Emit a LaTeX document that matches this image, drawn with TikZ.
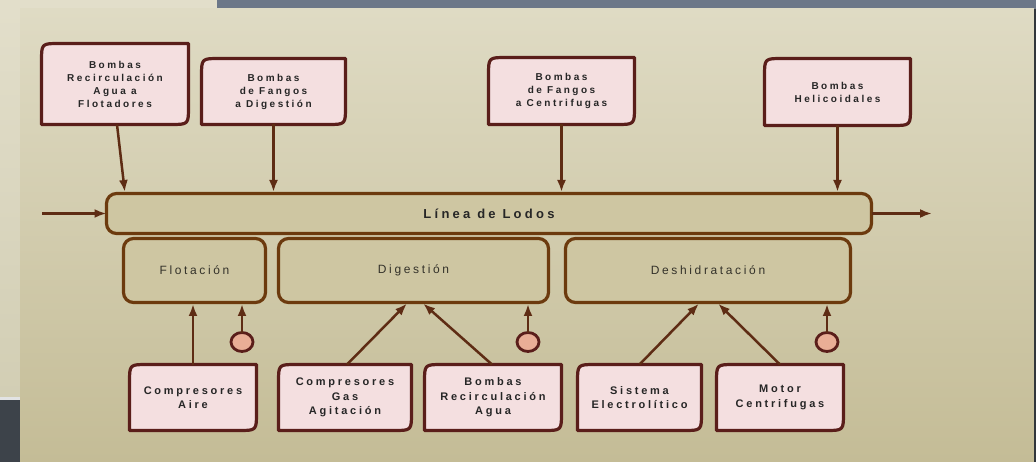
\documentclass[tikz,border=0pt]{standalone}
\usepackage{fontspec}
\setmainfont{Liberation Sans}
\newfontfamily\boxfont[LetterSpace=25]{Liberation Sans}
\newfontfamily\stagefont[LetterSpace=22]{Liberation Sans}
\usetikzlibrary{arrows.meta,backgrounds,shapes.geometric}

\definecolor{panelTop}{HTML}{DFDBC4}
\definecolor{panelBot}{HTML}{C4BC96}
\definecolor{stripTop}{HTML}{E2DECA}
\definecolor{stripBot}{HTML}{D2CEB4}
\definecolor{slateBar}{HTML}{6C7788}
\definecolor{slateDark}{HTML}{3D434A}
\definecolor{pumpFill}{HTML}{F4DFE0}
\definecolor{pumpLine}{HTML}{5A1E1A}
\definecolor{stageFill}{HTML}{CEC6A2}
\definecolor{stageLine}{HTML}{6C3A0E}
\definecolor{flowLine}{HTML}{5E2C14}
\definecolor{valveFill}{HTML}{E9AE96}
\definecolor{stageText}{HTML}{34322A}

\tikzset{
  pump/.style={inner sep=0pt, outer sep=0pt, align=center, text=black!85,
    font=\boxfont\bfseries\fontsize{10}{13}\selectfont},
  pumpbig/.style={pump, font=\boxfont\bfseries\fontsize{11}{14.5}\selectfont},
  pumpline/.style={draw=pumpLine, fill=pumpFill, line width=3.2pt, line join=round},
  stage/.style={draw=stageLine, fill=stageFill, line width=3.2pt, rounded corners=10pt,
    inner sep=0pt, outer sep=0pt, text=stageText,
    font=\stagefont\fontsize{12}{14}\selectfont},
  valve/.style={ellipse, draw=pumpLine, fill=valveFill, line width=2.8pt,
    minimum width=22pt, minimum height=19pt, inner sep=0pt, outer sep=0pt},
  flow/.style={draw=flowLine, line width=2.5pt, shorten >=1.5pt,
    -{Latex[length=12pt,width=9pt]}}
}

% pink box: only top left and bottom right corners are rounded
\newcommand\pumpframe[1]{%
  \begin{scope}[on background layer]
    \filldraw[pumpline] ([yshift=-18pt]#1.north west) .. controls (#1.north west) .. ([xshift=18pt]#1.north west)
      -- (#1.north east) -- ([yshift=18pt]#1.south east) .. controls (#1.south east) .. ([xshift=-18pt]#1.south east)
      -- (#1.south west) -- cycle;
  \end{scope}}

\begin{document}
\begin{tikzpicture}[x=1pt,y=-1pt]
\useasboundingbox (0,0) rectangle (1036,462);

% slide background
\begin{scope}[on background layer]
\fill[stripTop] (0,0) rectangle (217,10);
\shade[top color=stripTop, bottom color=stripBot] (0,10) rectangle (20,398);
\fill[slateBar] (217,0) rectangle (1036,9);
\fill[white!85!slateDark] (0,397) rectangle (20,399.5);
\fill[slateDark] (0,399.5) rectangle (20,462);
\shade[top color=panelTop, bottom color=panelBot] (20,9) rectangle (1034,462);
\fill[slateDark!80!black] (1034,9) rectangle (1036,462);
\end{scope}

% main line
\node[stage, minimum width=765pt, minimum height=40pt,
  font=\boxfont\bfseries\fontsize{13}{15}\selectfont, text=black!85] (bar) at (489,213.5) {Línea de Lodos};
\coordinate (in) at (42,213.5);
\coordinate (out) at (932,213.5);
\draw[flow, shorten >=0pt] (in) -- (bar.west);
\draw[flow, shorten >=0pt] (bar.east) -- (out);

% stages
\node[stage, minimum width=142pt, minimum height=64pt] (flot) at (194.5,270.5) {Flotación};
\node[stage, minimum width=270pt, minimum height=64pt] (dig) at (413.5,270.5) {Digestión};
\node[stage, minimum width=285pt, minimum height=64pt] (desh) at (708,270.5) {Deshidratación};

% pumps on the main line
\node[pump, minimum width=147pt, minimum height=81pt] (rec) at (115,84) {Bombas\\Recirculación\\Agua a\\Flotadores};
\node[pump, minimum width=144pt, minimum height=66pt] (fdig) at (273.5,91.5) {Bombas\\de Fangos\\a Digestión};
\node[pump, minimum width=146pt, minimum height=67pt] (fcen) at (561.5,91) {Bombas\\de Fangos\\a Centrifugas};
\node[pump, minimum width=146pt, minimum height=67pt] (hel) at (837.5,92) {Bombas\\Helicoidales};
\pumpframe{rec}
\pumpframe{fdig}
\pumpframe{fcen}
\pumpframe{hel}

\draw[flow] ([xshift=2pt]rec.south) -- ([xshift=-364pt]bar.north);
\draw[flow] (fdig.south) -- (fdig.south |- bar.north);
\draw[flow] (fcen.south) -- (fcen.south |- bar.north);
\draw[flow] (hel.south) -- (hel.south |- bar.north);

% equipment under the stages
\node[pumpbig, minimum width=127pt, minimum height=66pt] (caire) at (193,397.5) {Compresores\\Aire};
\node[pumpbig, minimum width=133pt, minimum height=66pt] (cgas) at (345,397.5) {Compresores\\Gas\\Agitación};
\node[pumpbig, minimum width=137pt, minimum height=66pt] (brec) at (493,397.5) {Bombas\\Recirculación\\Agua};
\node[pumpbig, minimum width=124pt, minimum height=66pt] (sis) at (639.5,397.5) {Sistema\\Electrolítico};
\node[pumpbig, minimum width=127pt, minimum height=66pt] (mot) at (780,397.5) {Motor\\Centrifugas};
\pumpframe{caire}
\pumpframe{cgas}
\pumpframe{brec}
\pumpframe{sis}
\pumpframe{mot}

\node[valve] (v1) at (242,342) {};
\node[valve] (v2) at (528,342) {};
\node[valve] (v3) at (827,342) {};

\draw[flow] (caire.north) -- (caire.north |- flot.south);
\draw[flow] (v1.north) -- (v1.north |- flot.south);
\draw[flow] ([xshift=2pt]cgas.north) -- ([xshift=-5.5pt]dig.south);
\draw[flow] ([xshift=-1pt]brec.north) -- ([xshift=8.5pt]dig.south);
\draw[flow] (v2.north) -- (v2.north |- dig.south);
\draw[flow] (sis.north) -- ([xshift=-8pt]desh.south);
\draw[flow] (mot.north) -- ([xshift=9pt]desh.south);
\draw[flow] (v3.north) -- (v3.north |- desh.south);
\end{tikzpicture}
\end{document}
